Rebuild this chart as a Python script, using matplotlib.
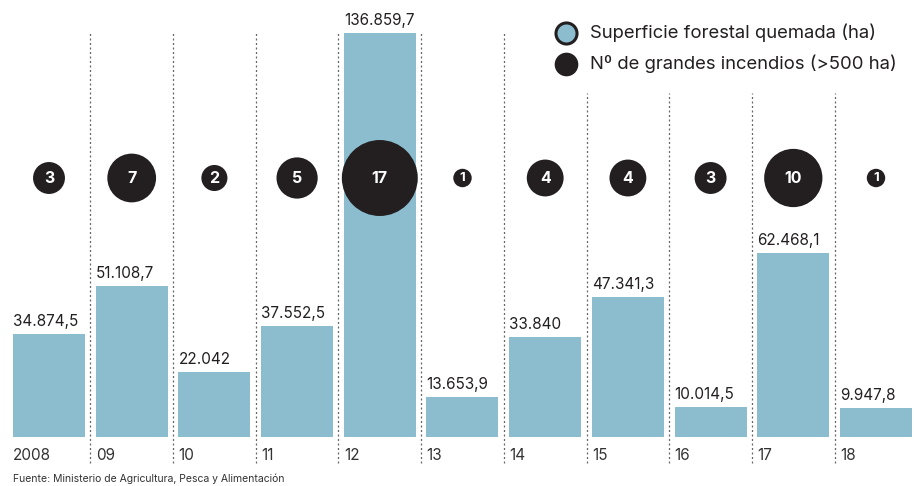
import matplotlib
matplotlib.use("Agg")
import matplotlib.pyplot as plt

plt.rcParams['font.family'] = ['Inter', 'DejaVu Sans']

years = ['2008', '09', '10', '11', '12', '13', '14', '15', '16', '17', '18']
superficie = [34874.5, 51108.7, 22042, 37552.5, 136859.7, 13653.9, 33840, 47341.3, 10014.5, 62468.1, 9947.8]
labels = ['34.874,5', '51.108,7', '22.042', '37.552,5', '136.859,7', '13.653,9',
          '33.840', '47.341,3', '10.014,5', '62.468,1', '9.947,8']
incendios = [3, 7, 2, 5, 17, 1, 4, 4, 3, 10, 1]

bar_color = '#8bbdcf'
dark = '#231f20'

W, H = 914, 486
fig = plt.figure(figsize=(W / 100, H / 100), dpi=100)
ax = fig.add_axes([0, 0, 1, 1])

# escala: 82.7 px por barra, 404 px para el máximo
step = 82.7
x0 = 49
base = 437
ppv = 404 / max(superficie)
ax.set_xlim(-x0 / step, (W - x0) / step)
ax.set_ylim(-(H - base) / ppv, base / ppv)
ax.axis('off')

xs = list(range(len(years)))
bw = 72 / step
ax.bar(xs, superficie, width=bw, color=bar_color, zorder=1)

# separadores punteados (los de debajo de la leyenda empiezan más abajo)
for i in xs[:-1]:
    xl = i + 0.5
    top = 404 if i < 6 else 344
    ax.plot([xl, xl], [-26 / ppv, top / ppv], ls=(0, (1.6, 2)), lw=0.9, color='#666666', zorder=0)

for i, (v, lab, yr) in enumerate(zip(superficie, labels, years)):
    ax.text(i - bw / 2, v + 5 / ppv, lab, ha='left', va='bottom', fontsize=11, color=dark)
    ax.text(i - bw / 2, -11 / ppv, yr, ha='left', va='top', fontsize=11, color='#333333')

# burbujas
yb = (base - 178) / ppv
ax.scatter(xs, [yb] * len(xs), s=[n * 176 for n in incendios], color=dark, zorder=3, linewidths=0)
for i, n in enumerate(incendios):
    ax.text(i, yb, str(n), ha='center', va='center', color='white', fontsize=11.5 if n > 1 else 9.5,
            fontweight='bold', zorder=4)

# leyenda
ax.scatter([(566 - x0) / step], [(base - 33) / ppv], s=230, color=bar_color, edgecolors=dark, linewidths=2.2, zorder=5, clip_on=False)
ax.scatter([(566 - x0) / step], [(base - 64) / ppv], s=290, color=dark, linewidths=0, zorder=5, clip_on=False)
fig.text(590 / W, 1 - 33 / H, 'Superficie forestal quemada (ha)', ha='left', va='center', fontsize=13.3, color=dark)
fig.text(590 / W, 1 - 64 / H, 'Nº de grandes incendios (>500 ha)', ha='left', va='center', fontsize=13.3, color=dark)

fig.text(13 / W, 1 - 479 / H, 'Fuente: Ministerio de Agricultura, Pesca y Alimentación', ha='left', va='center', fontsize=7.5, color='#333333')

fig.savefig('out.png', dpi=100)
